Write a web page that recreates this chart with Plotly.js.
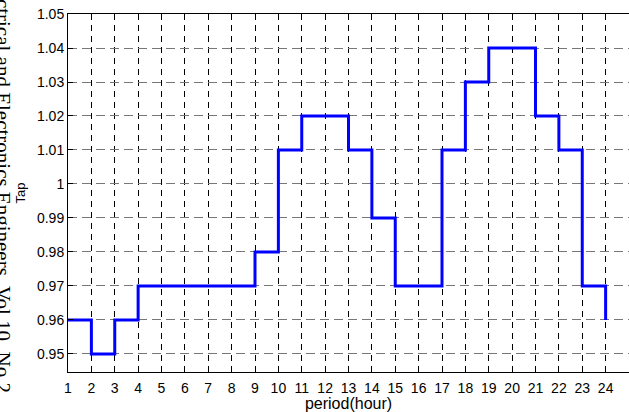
<!DOCTYPE html>
<html>
<head>
<meta charset="utf-8">
<script src="https://cdn.plot.ly/plotly-3.0.1.min.js"></script>
<style>html,body{margin:0;padding:0;background:#fff;}#chart{width:629px;height:412px;}</style>
</head>
<body>
<div id="chart"></div>
<script>
const periods = [1,2,3,4,5,6,7,8,9,10,11,12,13,14,15,16,17,18,19,20,21,22,23,24];
const tapValues = [0.96,0.95,0.96,0.97,0.97,0.97,0.97,0.97,0.98,1.01,1.02,1.02,1.01,0.99,0.97,0.97,1.01,1.03,1.04,1.04,1.02,1.01,0.97,0.96];
const xTickVals = [1,2,3,4,5,6,7,8,9,10,11,12,13,14,15,16,17,18,19,20,21,22,23,24];
const yTickVals = [0.95,0.96,0.97,0.98,0.99,1.00,1.01,1.02,1.03,1.04,1.05];
const yTickText = ['0.95','0.96','0.97','0.98','0.99','1','1.01','1.02','1.03','1.04','1.05'];

const trace = {
  x: periods, y: tapValues, type: 'scatter', mode: 'lines',
  line: {shape: 'hv', color: '#0000ff', width: 3},
  hoverinfo: 'skip'
};

const layout = {
  width: 629, height: 412,
  margin: {l: 68, r: 0, t: 14, b: 40},
  paper_bgcolor: '#fff', plot_bgcolor: '#fff',
  showlegend: false,
  font: {family: 'Liberation Sans, Arial, sans-serif', size: 14, color: '#000'},
  xaxis: {
    range: [1, 25], tickvals: xTickVals, ticktext: xTickVals.map(String),
    ticks: 'inside', ticklen: 5, tickcolor: '#000', tickwidth: 1,
    showline: true, linecolor: '#000', linewidth: 1, mirror: 'ticks',
    showgrid: true, gridcolor: '#000', gridwidth: 1, griddash: '6px,5px',
    zeroline: false,
    tickfont: {size: 14},
    ticklabelstandoff: 3,
    title: {text: 'period(hour)', font: {size: 16}, standoff: 2}
  },
  yaxis: {
    range: [0.9447, 1.05], tickvals: yTickVals, ticktext: yTickText,
    ticks: 'inside', ticklen: 5, tickcolor: '#000', tickwidth: 1,
    showline: true, linecolor: '#000', linewidth: 1, mirror: false,
    showgrid: true, gridcolor: '#777', gridwidth: 1, griddash: '9px,5px',
    zeroline: false,
    tickfont: {size: 14},
    title: {text: 'Tap', font: {size: 13}, standoff: 8}
  },
  annotations: [
    {xref: 'paper', yref: 'paper', x: -0.117, y: 0.53, text: 'Electrical and Electronics Engineers, Vol 10, No 2',
     textangle: 90, showarrow: false, xanchor: 'center', yanchor: 'middle',
     font: {family: 'Liberation Serif, Times New Roman, serif', size: 21, color: '#000'}}
  ]
};

Plotly.newPlot('chart', [trace], layout, {displayModeBar: false, staticPlot: true});
</script>
</body>
</html>
